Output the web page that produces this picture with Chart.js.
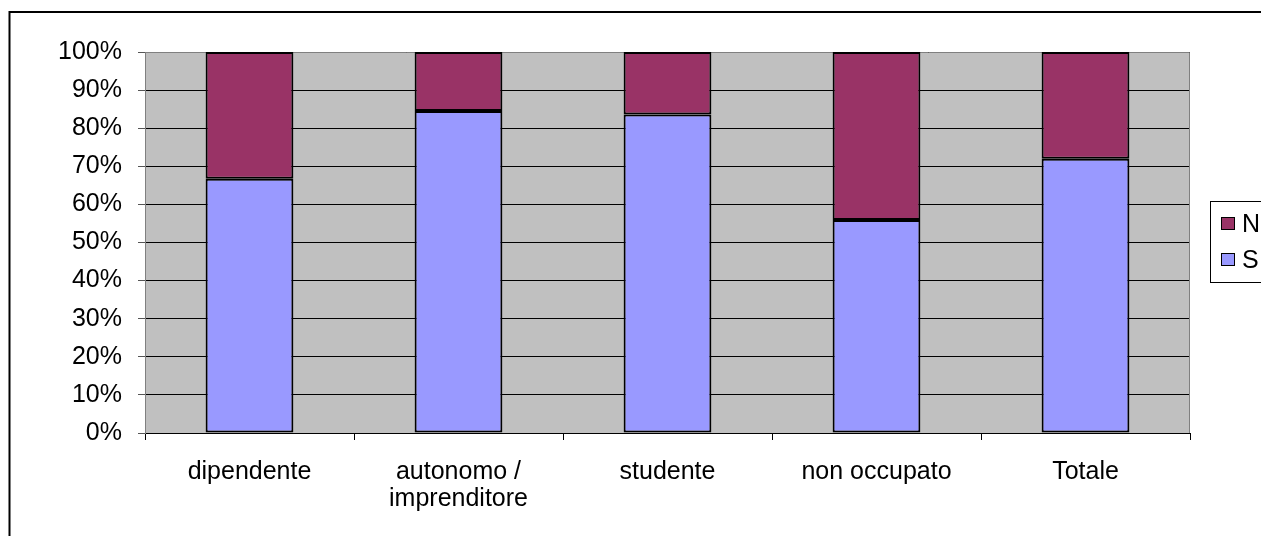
<!DOCTYPE html>
<html>
<head>
<meta charset="utf-8">
<script src="https://cdn.jsdelivr.net/npm/chart.js"></script>
<style>
  html, body { margin: 0; padding: 0; background: #fff; }
  #wrap { width: 1261px; height: 536px; }
</style>
</head>
<body>
<div id="wrap"><canvas id="chart" width="1261" height="536"></canvas></div>
<script>
// values (percent of each group)
const categories = ['dipendente', ['autonomo /', 'imprenditore'], 'studente', 'non occupato', 'Totale'];
const seriesNames = ['S', 'N'];
const valuesS = [66.7, 84.5, 83.6, 55.9, 72.0];
const valuesN = [33.3, 15.5, 16.4, 44.1, 28.0];
const yTicks = [0, 10, 20, 30, 40, 50, 60, 70, 80, 90, 100];

const FONT = { family: '"Liberation Sans", Arial, sans-serif', size: 25, lineHeight: 1.1 };

// grey plot area, outer frame and a boxed legend like the old Excel chart
const framePlugin = {
  id: 'frame',
  beforeDraw(chart) {
    const { ctx, chartArea: a } = chart;
    ctx.save();
    ctx.fillStyle = '#fff';
    ctx.fillRect(0, 0, chart.width, chart.height);
    ctx.fillStyle = '#C0C0C0';
    ctx.fillRect(a.left, a.top, a.right - a.left, a.bottom - a.top);
    ctx.restore();
  },
  beforeDatasetsDraw(chart) {
    const { ctx, chartArea: a } = chart;
    ctx.save();
    ctx.strokeStyle = '#808080';
    ctx.lineWidth = 1;
    ctx.beginPath();
    ctx.moveTo(a.left, a.top + 0.5);
    ctx.lineTo(a.right - 0.5, a.top + 0.5);
    ctx.lineTo(a.right - 0.5, a.bottom);
    ctx.stroke();
    ctx.restore();
  },
  afterDraw(chart) {
    const ctx = chart.ctx;
    ctx.save();
    ctx.strokeStyle = '#000';
    ctx.lineWidth = 2;
    ctx.strokeRect(9.5, 12, chart.width + 20, chart.height + 20);

    // legend, N on top
    ctx.lineWidth = 1;
    ctx.strokeRect(1210.5, 201.5, 80, 81);
    const items = chart.data.datasets.slice().reverse();
    ctx.font = FONT.size + 'px ' + FONT.family;
    ctx.textBaseline = 'middle';
    items.forEach((ds, i) => {
      const cy = 224 + i * 36;
      ctx.fillStyle = ds.backgroundColor;
      ctx.fillRect(1221, cy - 7, 14, 13);
      ctx.strokeStyle = '#000';
      ctx.strokeRect(1221.5, cy - 6.5, 13, 12);
      ctx.fillStyle = '#000';
      ctx.fillText(ds.label, 1242, cy + 1);
    });
    ctx.restore();
  }
};

new Chart(document.getElementById('chart'), {
  type: 'bar',
  data: {
    labels: categories,
    datasets: [
      { label: seriesNames[0], data: valuesS, backgroundColor: '#9999FF' },
      { label: seriesNames[1], data: valuesN, backgroundColor: '#993366' }
    ]
  },
  options: {
    responsive: false,
    animation: false,
    layout: { padding: { top: 52, right: 71, left: 0, bottom: 0 } },
    datasets: {
      bar: {
        borderColor: '#000',
        borderWidth: 2,
        borderSkipped: false,
        barPercentage: 0.42,
        categoryPercentage: 1.0
      }
    },
    plugins: {
      legend: { display: false },
      tooltip: { enabled: false }
    },
    scales: {
      x: {
        stacked: true,
        afterFit: (s) => { s.height = 103; },
        grid: { offset: true, drawOnChartArea: false, tickLength: 7, color: '#000' },
        border: { color: '#000', width: 1 },
        ticks: { color: '#000', font: FONT, padding: 18, maxRotation: 0, autoSkip: false }
      },
      y: {
        stacked: true,
        min: yTicks[0],
        max: yTicks[yTicks.length - 1],
        afterFit: (s) => { s.width = 145; },
        afterBuildTicks: (s) => { s.ticks = yTicks.map(v => ({ value: v })); },
        grid: { color: '#000', lineWidth: 1, tickLength: 7, tickColor: '#555' },
        border: { color: '#808080', width: 1 },
        ticks: { color: '#000', font: FONT, padding: 16, callback: (v) => v + '%' }
      }
    }
  },
  plugins: [framePlugin]
});
</script>
</body>
</html>
